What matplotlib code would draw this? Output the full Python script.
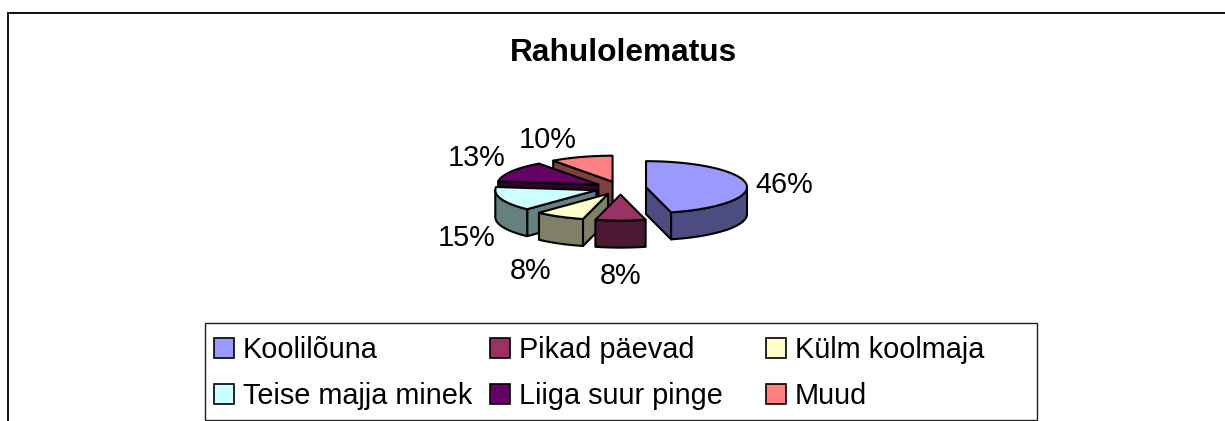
import numpy as np
import matplotlib
matplotlib.use('Agg')
import matplotlib.pyplot as plt
from matplotlib.patches import Polygon, Rectangle

plt.rcParams['font.family'] = ['Liberation Sans', 'DejaVu Sans']

# data
categories = ['Koolilõuna', 'Pikad päevad', 'Külm koolmaja',
              'Teise majja minek', 'Liiga suur pinge', 'Muud']
values = [46, 8, 8, 15, 13, 10]
top_colors = ['#9999FF', '#993366', '#FFFFCC', '#CCFFFF', '#660066', '#FF8080']
side_colors = ['#4C4C80', '#4C1933', '#808066', '#668080', '#330033', '#804040']

# layout, in pixels of the picture
cx, cy = 620.5, 188
rx, ry = 101, 26
depth = 27
explode = 0.2545
label_xy = [(784, 185), (621, 276), (531, 271), (467, 238), (477, 158), (548, 140)]
legend_cols = [(214, 243), (490, 519), (766, 795)]
legend_rows = [348, 394]

fig = plt.figure(figsize=(12.25, 4.21), dpi=100)
ax = fig.add_axes([0, 0, 1, 1])
ax.set_xlim(0, 1225)
ax.set_ylim(421, 0)
ax.axis('off')

# chart frame, only top and left edges are in the crop
ax.plot([8, 8, 1225], [421, 13, 13], color='#111111', lw=1.4, solid_joinstyle='miter')
ax.text(623, 53, 'Rahulolematus', fontsize=22.8, fontweight='bold', ha='center', va='center')


def point(ox, oy, ang):
    return ox + rx * np.sin(ang), oy - ry * np.cos(ang)


# angles run clockwise from 12 o'clock
edges = np.radians(np.concatenate([[0], np.cumsum(values)]) * 3.6)
mids = (edges[:-1] + edges[1:]) / 2

# back slices first so the front ones paint over them
for i in np.argsort(-np.cos(mids)):
    a0, a1 = edges[i], edges[i + 1]
    ox = cx + explode * rx * np.sin(mids[i])
    oy = cy - explode * ry * np.cos(mids[i])

    # flat cut walls, only the ones turned to the viewer
    for a, sign in ((a0, -1), (a1, 1)):
        px, py = point(ox, oy, a)
        if sign * (px - ox) > 0:
            ax.add_patch(Polygon([(ox, oy), (px, py), (px, py + depth), (ox, oy + depth)],
                                 fc=side_colors[i], ec='black', lw=1.5, joinstyle='round'))

    # rim, front half only
    r0, r1 = max(a0, np.pi / 2), min(a1, 3 * np.pi / 2)
    if r1 > r0:
        t = np.linspace(r0, r1, 60)
        xs, ys = point(ox, oy, t)
        rim = list(zip(xs, ys)) + list(zip(xs[::-1], ys[::-1] + depth))
        ax.add_patch(Polygon(rim, fc=side_colors[i], ec='black', lw=1.5, joinstyle='round'))

    # top face
    t = np.linspace(a0, a1, 80)
    xs, ys = point(ox, oy, t)
    ax.add_patch(Polygon([(ox, oy)] + list(zip(xs, ys)), fc=top_colors[i], ec='black',
                         lw=1.5, joinstyle='round'))

for v, (x, y) in zip(values, label_xy):
    ax.text(x, y, '%d%%' % v, fontsize=20.8, ha='center', va='center')

# legend
ax.add_patch(Rectangle((204.5, 322.5), 832, 97.5, fc='white', ec='#222222', lw=1))
for i, name in enumerate(categories):
    sx, tx = legend_cols[i % 3]
    y = legend_rows[i // 3]
    ax.add_patch(Rectangle((sx, y - 10), 20, 20, fc=top_colors[i], ec='black', lw=1.2))
    ax.text(tx, y + 1.5, name, fontsize=20.8, ha='left', va='center')

fig.savefig('out.png', dpi=100)
